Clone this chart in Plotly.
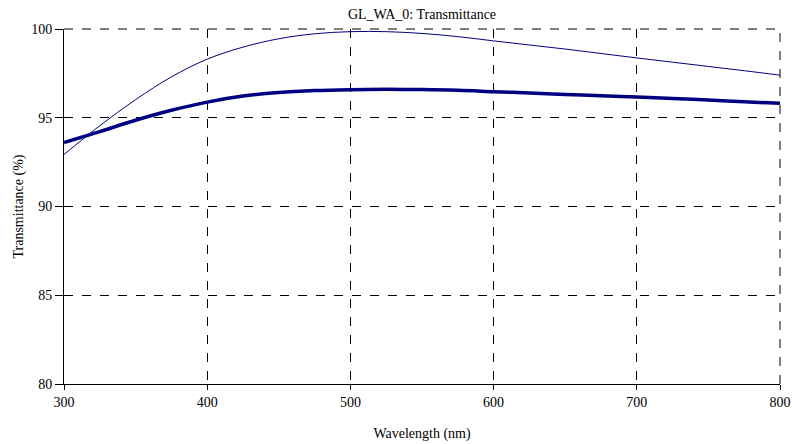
import plotly.graph_objects as go

wavelength = [300, 325, 350, 375, 400, 425, 450, 475, 500, 525, 550, 575, 600, 625, 650, 675, 700, 725, 750, 775, 800]
thin_T = [92.93, 94.55, 96.02, 97.3, 98.3, 98.98, 99.45, 99.73, 99.85, 99.85, 99.75, 99.57, 99.33, 99.1, 98.87, 98.62, 98.37, 98.13, 97.89, 97.65, 97.4]
thick_T = [93.6, 94.22, 94.86, 95.42, 95.88, 96.22, 96.42, 96.53, 96.58, 96.6, 96.59, 96.55, 96.47, 96.39, 96.31, 96.24, 96.17, 96.08, 96.0, 95.9, 95.81]

x_ticks = [300, 400, 500, 600, 700, 800]
y_ticks = [80, 85, 90, 95, 100]

font = "Liberation Serif, Times New Roman, serif"

W, H = 792, 444

fig = go.Figure()
fig.add_trace(go.Scatter(x=wavelength, y=thin_T, mode="lines", line=dict(color="#000080", width=1, shape="spline", smoothing=1)))
fig.add_trace(go.Scatter(x=wavelength, y=thick_T, mode="lines", line=dict(color="#000080", width=3.5, shape="spline", smoothing=1)))

fig.update_layout(
    width=W, height=H,
    margin=dict(l=64, r=12, t=29, b=60, autoexpand=False),
    paper_bgcolor="white", plot_bgcolor="white",
    showlegend=False,
    font=dict(family=font, size=14, color="black"),
    title=dict(text="GL_WA_0: Transmittance", x=0.5, xref="paper", xanchor="center",
               y=1 - 14 / H, yanchor="middle",
               font=dict(family=font, size=14, color="black")),
    shapes=[
        dict(type="line", xref="paper", yref="paper", x0=0, x1=1, y0=1, y1=1,
             line=dict(color="black", width=1, dash="dash"), layer="below"),
        dict(type="line", xref="paper", yref="paper", x0=1, x1=1, y0=0, y1=1,
             line=dict(color="black", width=1, dash="dash"), layer="below"),
    ],
)
fig.update_xaxes(
    range=[300, 800], tickvals=x_ticks, ticktext=[str(v) for v in x_ticks],
    showgrid=True, gridcolor="black", griddash="dash", gridwidth=1,
    showline=True, linecolor="black", linewidth=1,
    ticks="outside", ticklen=5, tickcolor="black",
    zeroline=False, automargin=False,
    title=dict(text="Wavelength (nm)", standoff=19, font=dict(family=font, size=14)),
)
fig.update_yaxes(
    range=[80, 100], tickvals=y_ticks, ticktext=[str(v) for v in y_ticks],
    showgrid=True, gridcolor="black", griddash="dash", gridwidth=1,
    showline=True, linecolor="black", linewidth=1,
    ticks="outside", ticklen=8, tickcolor="black",
    zeroline=False, automargin=False,
    title=dict(text="Transmittance (%)", standoff=4, font=dict(family=font, size=14)),
)

fig.write_html("out.html", config={"displayModeBar": False},
               post_script="document.body.style.margin='0';document.body.style.overflow='hidden';")
